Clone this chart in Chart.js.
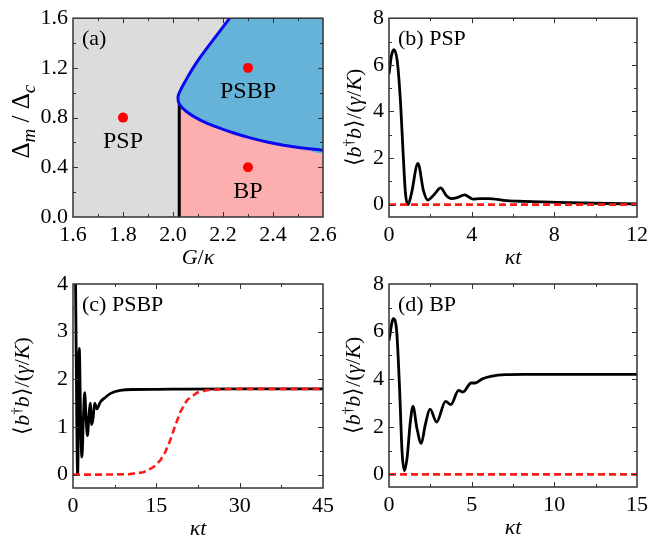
<!DOCTYPE html>
<html lang="pt">
<head>
<meta charset="utf-8">
<title>Diagrama de fases e dinâmica</title>
<script src="https://cdn.jsdelivr.net/npm/chart.js@4.4.1/dist/chart.umd.min.js"></script>
<style>
  html, body { margin: 0; background: #fff; }
  #fig { position: relative; width: 653px; height: 544px; }
  #fig canvas { position: absolute; left: 0; top: 0; }
</style>
</head>
<body>
<div id="fig">
  <canvas id="pa" width="653" height="544"></canvas>
  <canvas id="pb" width="653" height="544"></canvas>
  <canvas id="pc" width="653" height="544"></canvas>
  <canvas id="pd" width="653" height="544"></canvas>
</div>
<script>
const SERIF = "'Liberation Serif', 'Times New Roman', serif";
const TAM = 22;

// (a) diagrama de fases G/κ x Δm/Δc
const aFronteiraX = [2.227, 2.163, 2.096, 2.049, 2.025, 2.020, 2.025, 2.056, 2.109, 2.176, 2.243, 2.309, 2.376, 2.443, 2.509, 2.600];
const aFronteiraY = [1.600, 1.431, 1.249, 1.093, 1.000, 0.963, 0.910, 0.845, 0.780, 0.723, 0.676, 0.637, 0.604, 0.578, 0.557, 0.538];
const aNariz = 6; // ponto onde a linha preta toca a fronteira
const aLinhaX = [2.025, 2.025];
const aLinhaY = [0, 0.91];
const aPontosX = [1.8, 2.3, 2.3];
const aPontosY = [0.8, 1.2, 0.4];
const aRotulos = ["PSP", "PSBP", "BP"];
const aTicksX = [1.6, 1.8, 2.0, 2.2, 2.4, 2.6];
const aTicksY = [0, 0.4, 0.8, 1.2, 1.6];

// (b) PSP
const bT = [0, 0.12, 0.24, 0.4, 0.56, 0.68, 0.8, 0.92, 1.08, 1.4, 1.67, 1.88, 2.2, 2.5, 2.78, 3.0, 3.3, 3.66, 4.05, 4.4, 4.8, 5.7, 6.5, 8.1, 10, 12];
const bN = [5.6, 6.4, 6.65, 6.16, 4.35, 2.26, 0.45, 0.0, 0.45, 1.77, 0.59, 0.2, 0.45, 0.72, 0.38, 0.26, 0.3, 0.42, 0.24, 0.26, 0.26, 0.17, 0.14, 0.1, 0.06, 0.03];
const bRefT = [0, 12];
const bRefN = [0, 0];
const bTicksX = [0, 4, 8, 12];
const bTicksY = [0, 2, 4, 6, 8];

// (c) PSBP
const cT = [0, 0.25, 0.5, 0.84, 1.13, 1.35, 1.6, 1.85, 2.1, 2.35, 2.6, 2.85, 3.1, 3.35, 3.6, 3.9, 4.3, 4.9, 5.6, 6.7, 8.5, 10.9, 15, 20, 30, 45];
const cN = [5.6, 6.6, 3.5, 0.0, 2.65, 1.3, 0.37, 1.1, 1.72, 1.2, 0.82, 1.2, 1.5, 1.05, 1.17, 1.5, 1.38, 1.52, 1.6, 1.7, 1.766, 1.787, 1.79, 1.795, 1.8, 1.8];
const cRefT = [0, 5, 10, 12.7, 14.5, 15.7, 16.6, 17.5, 18.4, 19.3, 20.5, 22.3, 24, 26.5, 30, 45];
const cRefN = [0, 0, 0.01, 0.05, 0.16, 0.3, 0.47, 0.72, 1.03, 1.31, 1.56, 1.72, 1.77, 1.79, 1.8, 1.8];
const cTicksX = [0, 15, 30, 45];
const cTicksY = [0, 1, 2, 3, 4];

// (d) BP
const dT = [0, 0.26, 0.46, 0.64, 0.79, 0.93, 1.09, 1.29, 1.45, 1.69, 1.95, 2.19, 2.48, 2.88, 3.42, 3.74, 4.21, 4.47, 4.97, 5.21, 5.66, 6.16, 7.05, 8.15, 10, 12, 15];
const dN = [5.63, 6.54, 6.05, 3.6, 0.95, 0.15, 0.67, 2.2, 2.86, 1.93, 1.3, 2.07, 2.74, 2.2, 3.07, 2.93, 3.53, 3.46, 3.84, 3.84, 4.02, 4.12, 4.19, 4.2, 4.2, 4.2, 4.2];
const dRefT = [0, 15];
const dRefN = [0, 0];
const dTicksX = [0, 5, 10, 15];
const dTicksY = [0, 2, 4, 6, 8];

// títulos (i = itálico, s = subscrito, p = sobrescrito)
const tituloG = [["G", "i"], ["/", ""], ["κ", "i"]];
const tituloDelta = [["Δ", ""], ["m", "is"], [" / ", ""], ["Δ", ""], ["c", "is"]];
const tituloT = [["κt", "i"]];
const tituloN = [["⟨", ""], ["b", "i"], ["†", "p"], ["b", "i"], ["⟩", ""], ["/(", ""], ["γ", "i"], ["/", ""], ["K", "i"], [")", ""]];

const pts = (xs, ys) => xs.map((x, i) => ({ x, y: ys[i] }));
const COR = { cinza: "#dcdcdc", azul: "#66b3da", rosa: "#fdaeae", linhaAzul: "#0a0af0", verm: "#ff1a1a" };

function rico(ctx, partes, x, y, girar, tam = TAM, fatorInd = 0.68) {
  const fonte = (e) => (e.includes("i") ? "italic " : "") + (/[sp]/.test(e) ? Math.round(tam * fatorInd) : tam) + "px " + SERIF;
  ctx.save();
  ctx.translate(x, y);
  if (girar) ctx.rotate(-Math.PI / 2);
  ctx.textAlign = "left";
  ctx.textBaseline = "alphabetic";
  let larg = 0;
  partes.forEach(([t, e]) => { ctx.font = fonte(e); larg += ctx.measureText(t).width; });
  let cx = -larg / 2;
  partes.forEach(([t, e]) => {
    ctx.font = fonte(e);
    const dy = e.includes("s") ? tam * 0.22 : e.includes("p") ? -tam * 0.36 : 0;
    ctx.fillText(t, cx, tam * 0.33 + dy);
    cx += ctx.measureText(t).width;
  });
  ctx.restore();
}

// moldura fechada com marcas para dentro nos quatro lados
const moldura = {
  id: "moldura",
  afterDatasetsDraw(chart) {
    const { ctx, chartArea: a, scales: { x, y } } = chart;
    ctx.save();
    ctx.strokeStyle = "#333";
    ctx.lineWidth = 1;
    ctx.beginPath();
    x.ticks.forEach((t) => {
      const px = Math.round(x.getPixelForValue(t.value)) + 0.5;
      if (px < a.left + 2 || px > a.right - 2) return;
      const l = t.maior ? 5 : 3;
      ctx.moveTo(px, a.bottom); ctx.lineTo(px, a.bottom - l);
      ctx.moveTo(px, a.top); ctx.lineTo(px, a.top + l);
    });
    y.ticks.forEach((t) => {
      const py = Math.round(y.getPixelForValue(t.value)) + 0.5;
      if (py < a.top + 2 || py > a.bottom - 2) return;
      const l = t.maior ? 5 : 3;
      ctx.moveTo(a.left, py); ctx.lineTo(a.left + l, py);
      ctx.moveTo(a.right, py); ctx.lineTo(a.right - l, py);
    });
    ctx.stroke();
    ctx.lineWidth = 1.5;
    ctx.strokeRect(a.left, a.top, a.right - a.left, a.bottom - a.top);
    ctx.restore();
  },
};

function textos(p) {
  return {
    id: "textos",
    afterDraw(chart) {
      const { ctx, chartArea: a } = chart;
      ctx.save();
      ctx.fillStyle = "#000";
      rico(ctx, p.tituloX, (a.left + a.right) / 2, a.bottom + 40, false);
      rico(ctx, p.tituloY, a.left - p.dxY, (a.top + a.bottom) / 2 + (p.dyY || 0), true, p.tamY, p.fatorY);
      ctx.font = TAM + "px " + SERIF;
      ctx.textAlign = "left";
      ctx.textBaseline = "middle";
      ctx.fillText(p.rotulo, a.left + 9, a.top + 21);
      if (p.extra) p.extra(chart, ctx);
      ctx.restore();
    },
  };
}

function eixo(min, max, maiores, fmt, fit) {
  return {
    type: "linear", min, max,
    grid: { display: false, drawTicks: false },
    border: { display: false },
    afterFit: fit,
    afterBuildTicks: (s) => {
      const v = [];
      maiores.forEach((m, i) => {
        v.push({ value: m, maior: true });
        if (i < maiores.length - 1) v.push({ value: (m + maiores[i + 1]) / 2 });
      });
      s.ticks = v;
    },
    ticks: {
      font: { family: SERIF, size: TAM }, color: "#000", padding: 5,
      autoSkip: false, maxRotation: 0,
      callback: (v, i, ts) => (ts[i].maior ? fmt(v) : ""),
    },
  };
}

function painel(id, p) {
  const [L, T, R, B] = p.caixa;
  const YW = 60, XH = 50;
  return new Chart(document.getElementById(id), {
    type: "line",
    data: { datasets: p.series },
    options: {
      responsive: false, animation: false, devicePixelRatio: 1,
      layout: { padding: { left: L - YW, top: T, right: 653 - R, bottom: 544 - B - XH } },
      elements: { point: { radius: 0 } },
      plugins: { legend: { display: false }, tooltip: { enabled: false } },
      scales: {
        x: eixo(p.x[0], p.x[1], p.ticksX, p.fmt, (s) => { s.height = XH; }),
        y: eixo(p.y[0], p.y[1], p.ticksY, p.fmt, (s) => { s.width = YW; }),
      },
    },
    plugins: [moldura, textos(p)],
  });
}

const curva = (data) => ({ data, borderColor: "#000", borderWidth: 2.8, cubicInterpolationMode: "monotone" });
const tracejada = (data) => ({ data, borderColor: COR.verm, borderWidth: 2.6, borderDash: [7, 4] });

function desenhar() {
  Chart.defaults.font.family = SERIF;

  // (a)
  const fronteira = pts(aFronteiraX, aFronteiraY);
  painel("pa", {
    caixa: [73, 12, 323, 217], x: [1.6, 2.6], y: [0, 1.6],
    ticksX: aTicksX, ticksY: aTicksY, fmt: (v) => v.toFixed(1),
    tituloX: tituloG, tituloY: tituloDelta, dxY: 52, dyY: 4, tamY: 25, fatorY: 0.75, rotulo: "(a)",
    series: [
      { data: pts(aPontosX, aPontosY), showLine: false, pointRadius: 5, pointBackgroundColor: "#ff0000", pointBorderWidth: 0 },
      { data: fronteira, borderColor: COR.linhaAzul, borderWidth: 3, tension: 0.4, capBezierPoints: false },
      { data: pts(aLinhaX, aLinhaY), borderColor: "#000", borderWidth: 3 },
      { data: [...fronteira, { x: 2.6, y: 1.6 }], borderWidth: 0, backgroundColor: COR.azul, fill: "shape", tension: 0.4, capBezierPoints: false },
      { data: [...fronteira.slice(aNariz), { x: 2.6, y: 0 }, { x: aLinhaX[0], y: 0 }], borderWidth: 0, backgroundColor: COR.rosa, fill: "shape", tension: 0.4, capBezierPoints: false },
      { data: [{ x: 1.6, y: 0 }, { x: 1.6, y: 1.6 }, { x: 2.6, y: 1.6 }, { x: 2.6, y: 0 }], borderWidth: 0, backgroundColor: COR.cinza, fill: "shape" },
    ],
    extra: (chart, ctx) => {
      const { x, y } = chart.scales;
      ctx.textAlign = "center";
      ctx.font = "24px " + SERIF;
      aRotulos.forEach((r, i) => ctx.fillText(r, x.getPixelForValue(aPontosX[i]), y.getPixelForValue(aPontosY[i]) + 24));
    },
  });

  // (b)
  painel("pb", {
    caixa: [389, 13, 641, 217], x: [0, 12], y: [-0.53, 8],
    ticksX: bTicksX, ticksY: bTicksY, fmt: (v) => String(v),
    tituloX: tituloT, tituloY: tituloN, dxY: 35, rotulo: "(b) PSP",
    series: [tracejada(pts(bRefT, bRefN)), curva(pts(bT, bN))],
  });

  // (c)
  painel("pc", {
    caixa: [73, 284, 323, 488], x: [0, 45], y: [-0.28, 4],
    ticksX: cTicksX, ticksY: cTicksY, fmt: (v) => String(v),
    tituloX: tituloT, tituloY: tituloN, dxY: 51, rotulo: "(c) PSBP",
    series: [tracejada(pts(cRefT, cRefN)), curva(pts(cT, cN))],
  });

  // (d)
  painel("pd", {
    caixa: [389, 284, 641, 487], x: [0, 15], y: [-0.53, 8],
    ticksX: dTicksX, ticksY: dTicksY, fmt: (v) => String(v),
    tituloX: tituloT, tituloY: tituloN, dxY: 36, rotulo: "(d) BP",
    series: [tracejada(pts(dRefT, dRefN)), curva(pts(dT, dN))],
  });
}

Promise.all([
  document.fonts.load("22px 'Liberation Serif'"),
  document.fonts.load("italic 22px 'Liberation Serif'"),
]).catch(() => {}).then(desenhar);
</script>
</body>
</html>
